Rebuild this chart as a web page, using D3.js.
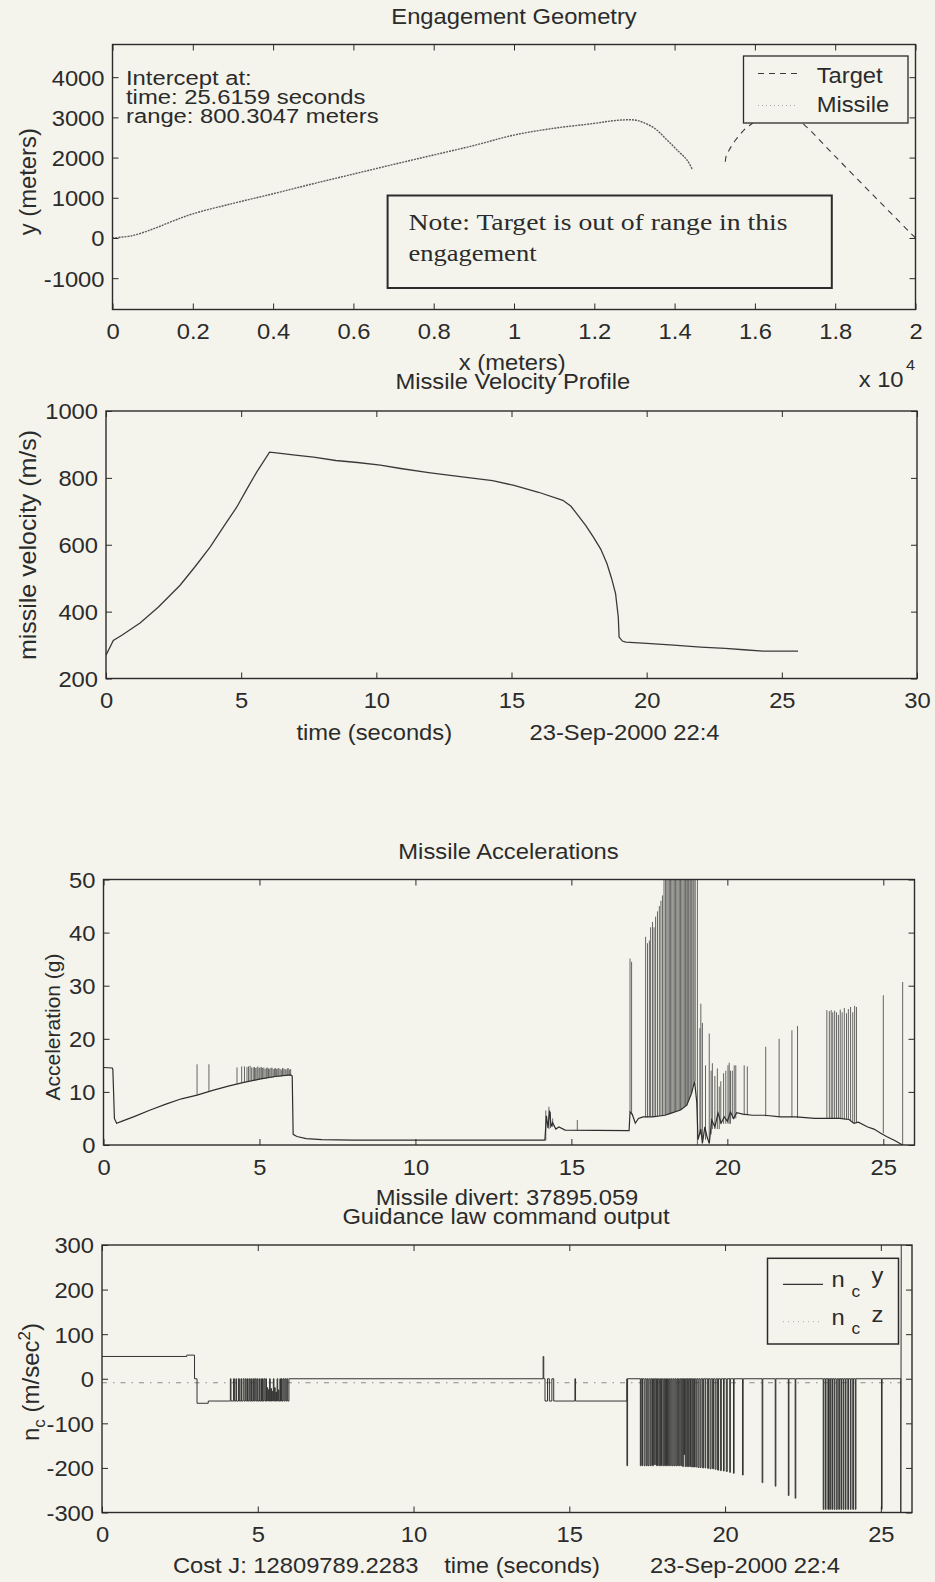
<!DOCTYPE html>
<html><head><meta charset="utf-8">
<script src="https://cdn.jsdelivr.net/npm/d3@7/dist/d3.min.js"></script>
<style>
html,body{margin:0;padding:0;background:#f4f4ec;}
svg{display:block;}
</style></head><body>
<svg id="c" width="935" height="1582"></svg>
<script>
// ---------------- DATA ----------------
// Panel 1: Engagement geometry (meters)
const missileX = [0, 500, 1000, 1500, 2000, 3000, 4000, 5000, 6000, 7000, 8000, 9000, 10000, 11000, 12000, 12500, 13000, 13200, 13500, 13800, 14100, 14300, 14450];
const missileY = [0, 60, 220, 420, 600, 860, 1100, 1350, 1590, 1830, 2065, 2300, 2560, 2730, 2850, 2920, 2935, 2880, 2730, 2450, 2150, 1950, 1690];
const targetX = [20000, 19000, 18000, 17190, 16800, 16500, 16200, 15935, 15770, 15520, 15360, 15280, 15262];
const targetY = [0, 1010, 2030, 2853, 3150, 3230, 3150, 2853, 2729, 2438, 2189, 2022, 1816];
const geoXTicks = [0, 2000, 4000, 6000, 8000, 10000, 12000, 14000, 16000, 18000, 20000];
const geoYTicks = [-1000, 0, 1000, 2000, 3000, 4000];
const interceptLines = ["Intercept at:", "time: 25.6159 seconds", "range: 800.3047 meters"];
const noteLines = ["Note:  Target is out of range in this", "engagement"];
const geoLegend = ["Target", "Missile"];

// Panel 2: Missile velocity (m/s)
const velT = [0, 0.27, 0.6, 1.26, 1.94, 2.74, 3.3, 3.85, 4.4, 4.84, 5.2, 5.58, 6.05, 6.3, 7.0, 7.68, 8.5, 9.3, 10.15, 10.9, 12.0, 13.4, 14.3, 15.06, 16.0, 16.9, 17.2, 17.46, 17.75, 18.03, 18.3, 18.53, 18.7, 18.85, 18.95, 18.98, 19.1, 19.23, 20.0, 21.0, 22.0, 22.9, 23.6, 24.3, 25.6];
const velV = [270, 314, 330, 366, 414, 479, 535, 593, 660, 713, 765, 818, 877, 875, 868, 862, 852, 846, 838, 828, 815, 801, 792, 778, 757, 733, 715, 688, 657, 623, 587, 544, 500, 454, 384, 324, 312, 309, 305, 300, 294, 290, 286, 282, 282];
const velXTicks = [0, 5, 10, 15, 20, 25, 30];
const velYTicks = [200, 400, 600, 800, 1000];

// Panel 3: Missile accelerations (g)
const accBaseT = [0, 0.28, 0.3, 0.35, 0.42, 0.6, 1.0, 1.5, 2.0, 2.5, 3.0, 3.5, 4.0, 4.5, 5.0, 5.5, 6.0, 6.05, 6.08, 6.2, 6.5, 7.0, 8.0, 14.15, 14.2, 14.25, 14.3, 14.35, 14.4, 14.5, 14.6, 14.8, 16.85, 16.88, 16.95, 17.05, 17.15, 17.3, 17.6, 18.0, 18.2, 18.5, 18.7, 18.85, 18.95, 19.02, 19.06, 19.15, 19.2, 19.28, 19.35, 19.42, 19.5, 19.6, 19.7, 19.8, 19.9, 20.0, 20.1, 20.2, 20.3, 20.5, 20.8, 21.2, 21.7, 22.2, 22.8, 23.6, 23.9, 24.06, 24.2, 24.5, 24.7, 24.92, 25.1, 25.35, 25.62];
const accBaseV = [14.6, 14.5, 14.2, 5.0, 4.1, 4.5, 5.4, 6.6, 7.7, 8.7, 9.4, 10.3, 11.1, 11.8, 12.4, 12.9, 13.2, 13.0, 2.0, 1.6, 1.2, 1.0, 0.9, 0.9, 5.5, 3.2, 6.5, 3.5, 4.2, 3.0, 3.4, 2.8, 2.7, 6.2, 5.8, 4.1, 5.0, 5.3, 5.3, 5.6, 6.0, 6.6, 7.5, 9.7, 12, 8, 1, 3, 0.3, 3.4, 1.5, 0.3, 4.7, 3.4, 6.0, 4.1, 5.3, 4.5, 6.2, 5.0, 6.1, 5.8, 5.6, 5.6, 5.3, 5.3, 5.0, 5.0, 4.8, 4.1, 4.3, 3.4, 3.0, 2.2, 1.6, 0.9, 0];
// spikes: [time, from, to]
const accSpikes = [
 [3.0,9.4,15.2],[3.38,10.2,15.2],
 [4.28,11.5,14.6],[4.43,11.7,14.8],[4.52,11.8,14.8],[4.6,11.9,14.7],[4.65,12.0,14.8],[4.7,12.0,14.9],[4.75,12.1,14.6],[4.8,12.1,14.6],[4.84,12.1,14.7],[4.88,12.2,14.5],[4.92,12.2,14.6],[4.95,12.3,14.8],[4.99,12.3,14.5],[5.02,12.4,14.6],[5.06,12.4,14.7],[5.1,12.4,14.5],[5.14,12.5,14.6],[5.18,12.5,14.3],[5.22,12.5,14.5],[5.25,12.6,14.6],[5.29,12.6,14.4],[5.33,12.6,14.4],[5.37,12.7,14.5],[5.4,12.7,14.6],[5.44,12.7,14.3],[5.48,12.8,14.4],[5.52,12.8,14.5],[5.55,12.8,14.3],[5.59,12.9,14.4],[5.62,12.9,14.5],[5.66,12.9,14.3],[5.7,12.9,14.2],[5.74,13.0,14.5],[5.78,13.0,14.4],[5.82,13.0,14.3],[5.85,13.0,14.2],[5.89,13.1,14.4],[5.92,13.1,14.5],[5.96,13.1,14.2],[6.0,13.1,14.3],
 [14.18,0.9,6.5],[14.28,3.0,7.2],[14.33,3.2,6.2],[14.4,3.4,5.0],[15.19,2.8,4.7],
 [16.88,6.2,35.1],[16.93,5.8,34.5],[17.38,5.2,39.2],[17.44,5.2,38],[17.5,5.3,38.5],[17.54,5.3,41],[17.6,5.3,42],[17.65,5.3,41],[17.7,5.4,43],[17.76,5.4,44],[17.82,5.5,45],[17.87,5.5,46],[17.92,5.5,47],
 [17.97,5.6,60],[18.02,5.6,60],[18.06,5.7,60],[18.1,5.8,60],[18.14,5.8,60],[18.18,6.0,60],[18.22,6.0,60],[18.26,6.1,60],[18.3,6.2,60],[18.34,6.3,60],[18.38,6.4,60],[18.42,6.5,60],[18.46,6.5,60],[18.5,6.6,60],[18.54,6.8,60],[18.58,7.0,60],[18.62,7.2,60],[18.66,7.4,60],[18.7,7.5,60],[18.73,8,60],[18.76,8.5,60],[18.8,9,60],[18.83,9.7,60],[18.86,10,60],[18.9,11,60],[18.93,12,60],[18.97,12,60],[19.04,0,60],
 [19.12,2,22],[19.15,2,26.6],[19.2,1,23],[19.3,1,15],[19.42,0.3,21],[19.48,2,14],[19.52,3,15.4],[19.6,3,13],[19.68,3,14.4],[19.74,3,11],[19.79,4,12],[19.88,4,13.5],[19.95,4,14],[20.02,4,15],[20.06,4,15.5],[20.1,4,14],[20.16,5,14],[20.22,5,15],[20.27,5,15],[20.54,5.6,15],[20.64,5.6,14.8],
 [21.23,5.4,18.5],[21.66,5.3,20],[22.07,5.2,21.6],[22.25,5.1,22.4],
 [23.19,5,25.4],[23.27,5,25.2],[23.33,5,25.4],[23.38,5,25],[23.44,4.9,25.3],[23.5,4.9,25],[23.56,4.9,24.5],[23.62,4.9,25.5],[23.68,4.9,25],[23.75,4.8,25.8],[23.82,4.8,24.8],[23.88,4.8,25.6],[23.95,4.6,26],[24.02,4.3,25],[24.08,4.2,26.2],[24.14,4.2,26],
 [25.0,2.2,28.2],[25.62,0,30.7]
];
const accXTicks = [0, 5, 10, 15, 20, 25];
const accYTicks = [0, 10, 20, 30, 40, 50];

// Panel 4: Guidance law command output (m/s^2)
const nyStart = [[0,50],[2.72,50],[2.72,53],[2.97,53],[2.97,0],[3.05,0],[3.05,-55],[3.41,-55],[3.41,-50],[4.1,-50]];
const nyRiseBase = -50;
// pulses up from -50: [start, end, top]
const nyRise = [[4.12,4.14,0],[4.22,4.25,0],[4.3,4.32,0],[4.38,4.41,0],[4.46,4.48,0],[4.53,4.56,0],[4.6,4.63,0],[4.67,4.69,0],[4.73,4.76,0],[4.8,4.82,0],[4.86,4.89,0],[4.92,4.95,0],[4.98,5.0,0],[5.04,5.06,0],[5.1,5.12,0],[5.15,5.17,0],[5.2,5.23,0],[5.26,5.28,0],[5.3,5.32,-20],[5.34,5.36,-25],[5.38,5.4,0],[5.42,5.44,-22],[5.46,5.48,-28],[5.5,5.52,0],[5.54,5.56,-20],[5.58,5.6,-30],[5.62,5.64,0],[5.66,5.68,-25],[5.71,5.73,0],[5.76,5.78,0],[5.81,5.84,0],[5.87,5.9,0],[5.93,5.96,0]];
const nyMid = [[6.0,-50],[6.0,0],[14.16,0],[14.16,50],[14.18,50],[14.18,0],[14.22,0],[14.22,-50],[14.3,-50],[14.3,0],[14.36,0],[14.36,-50],[14.44,-50],[14.44,0],[14.5,0],[14.5,-50],[15.18,-50],[15.18,0],[15.2,0],[15.2,-50],[16.85,-50],[16.85,0]];
// pulses down from 0: [start, end, value]
const nyDrops = [[16.85,16.87,-195],[17.28,17.3,-195],[17.33,17.35,-195],[17.4,17.43,-195],[17.47,17.5,-195],[17.53,17.56,-195],[17.6,17.63,-195],[17.67,17.7,-195],[17.74,17.76,-193],[17.8,17.83,-195],[17.87,17.9,-195],[17.93,17.96,-195],[18.0,18.03,-195],[18.06,18.09,-195],[18.12,18.15,-195],[18.18,18.21,-195],[18.24,18.27,-195],[18.3,18.33,-195],[18.36,18.39,-195],[18.42,18.45,-195],[18.48,18.5,-195],[18.53,18.56,-195],[18.59,18.61,-195],[18.64,18.66,-197],[18.68,18.7,-170],[18.72,18.74,-197],[18.77,18.79,-197],[18.82,18.84,-197],[18.87,18.89,-197],[18.93,18.95,-198],[18.99,19.02,-198],[19.06,19.09,-198],[19.13,19.16,-199],[19.2,19.23,-199],[19.28,19.31,-200],[19.36,19.38,-200],[19.44,19.47,-201],[19.52,19.55,-202],[19.6,19.63,-202],[19.68,19.71,-203],[19.76,19.79,-205],[19.85,19.88,-206],[19.95,19.97,-207],[20.04,20.07,-208],[20.15,20.17,-210],[20.27,20.29,-212],[20.56,20.58,-216],[21.19,21.21,-233],[21.61,21.63,-241],[22.03,22.05,-262],[22.25,22.27,-268],[23.15,23.17,-293],[23.22,23.24,-293],[23.3,23.32,-293],[23.36,23.38,-293],[23.43,23.45,-293],[23.5,23.52,-293],[23.57,23.6,-293],[23.65,23.67,-293],[23.72,23.74,-293],[23.79,23.81,-293],[23.86,23.88,-293],[23.94,23.96,-293],[24.02,24.04,-293],[24.1,24.12,-293],[24.18,24.2,-293],[25.02,25.04,-293]];
const nyEnd = [[25.64,0],[25.64,-300],[25.655,300]];
const nzLine = [[0,-9],[25.64,-9]];
const cmdXTicks = [0, 5, 10, 15, 20, 25];
const cmdYTicks = [-300, -200, -100, 0, 100, 200, 300];

// ---------------- STYLE ----------------
const FONT = "'Liberation Sans', Arial, Helvetica, sans-serif";
const SERIF = "'Liberation Serif', 'Times New Roman', serif";
const FS = 22, SX = 1.08, INK = "#2b2b2b", BG = "#f4f4ec";

const svg = d3.select("#c");
svg.append("rect").attr("width", 935).attr("height", 1582).attr("fill", BG);

function htext(x, y, str, o = {}) {
  return svg.append("text")
    .attr("transform", `translate(${x},${y}) scale(${o.sx || SX},1)`)
    .attr("text-anchor", o.anchor || "start")
    .attr("font-size", o.size || FS)
    .attr("font-family", o.family || FONT)
    .attr("fill", INK).text(str);
}
function vtext(x, y, str, size, len) {
  const t = svg.append("text")
    .attr("transform", `translate(${x},${y}) rotate(-90)`)
    .attr("text-anchor", "middle").attr("font-size", size || 24)
    .attr("font-family", FONT).attr("fill", INK).text(str);
  if (len) t.attr("textLength", len).attr("lengthAdjust", "spacingAndGlyphs");
  return t;
}

function panel(id, L, R, T, B, xDom, yDom) {
  const x = d3.scaleLinear().domain(xDom).range([L, R]);
  const y = d3.scaleLinear().domain(yDom).range([B, T]);
  svg.append("clipPath").attr("id", id).append("rect")
    .attr("x", L).attr("y", T).attr("width", R - L).attr("height", B - T);
  const g = svg.append("g").attr("clip-path", `url(#${id})`);
  return { x, y, g, L, R, T, B };
}
function axes(p, xTicks, yTicks, xFmt, yFmt) {
  const TL = 6;
  const st = s => s.attr("font-family", FONT).attr("font-size", FS).attr("color", INK);
  const gb = svg.append("g").attr("transform", `translate(0,${p.B})`)
    .call(d3.axisBottom(p.x).tickValues(xTicks).tickFormat(xFmt).tickSizeInner(-TL).tickSizeOuter(0));
  st(gb); gb.select(".domain").remove();
  gb.selectAll(".tick text").attr("y", 30).attr("dy", null).attr("transform", `scale(${SX},1)`);
  const gt = svg.append("g").attr("transform", `translate(0,${p.T})`)
    .call(d3.axisTop(p.x).tickValues(xTicks).tickFormat("").tickSizeInner(-TL).tickSizeOuter(0));
  st(gt); gt.select(".domain").remove();
  const gl = svg.append("g").attr("transform", `translate(${p.L},0)`)
    .call(d3.axisLeft(p.y).tickValues(yTicks).tickFormat(yFmt).tickSizeInner(-TL).tickSizeOuter(0));
  st(gl); gl.select(".domain").remove();
  gl.selectAll(".tick text").attr("x", -8 / SX).attr("dy", "0.36em").attr("transform", `scale(${SX},1)`);
  const gr = svg.append("g").attr("transform", `translate(${p.R},0)`)
    .call(d3.axisRight(p.y).tickValues(yTicks).tickFormat("").tickSizeInner(-TL).tickSizeOuter(0));
  st(gr); gr.select(".domain").remove();
  svg.selectAll(".tick line").attr("stroke-width", 1);
  svg.append("rect").attr("x", p.L).attr("y", p.T).attr("width", p.R - p.L).attr("height", p.B - p.T)
    .attr("fill", "none").attr("stroke", INK).attr("stroke-width", 1.4);
}

// ---------------- PANEL 1 ----------------
const p1 = panel("c1", 112.5, 915.5, 44.5, 309.5, [0, 20000], [-1779, 4813]);
const line1 = d3.line().x(d => p1.x(d[0])).y(d => p1.y(d[1])).curve(d3.curveCatmullRom);
p1.g.append("path").attr("d", line1(missileX.map((v, i) => [v, missileY[i]])))
  .attr("fill", "none").attr("stroke", "#5c5c5c").attr("stroke-width", 1.4).attr("stroke-dasharray", "2,1");
p1.g.append("path").attr("d", line1(targetX.map((v, i) => [v, targetY[i]])))
  .attr("fill", "none").attr("stroke", "#3a3a3a").attr("stroke-width", 1.1).attr("stroke-dasharray", "6,5");
// note box
svg.append("rect").attr("x", 387.6).attr("y", 195.5).attr("width", 444.2).attr("height", 92.5)
  .attr("fill", BG).attr("stroke", INK).attr("stroke-width", 2);
svg.append("text").attr("x", 408.5).attr("y", 230).attr("font-family", SERIF).attr("font-size", 23)
  .attr("fill", INK).attr("textLength", 379).attr("lengthAdjust", "spacingAndGlyphs").text(noteLines[0]);
svg.append("text").attr("x", 408.5).attr("y", 261).attr("font-family", SERIF).attr("font-size", 23)
  .attr("fill", INK).attr("textLength", 128).attr("lengthAdjust", "spacingAndGlyphs").text(noteLines[1]);
// legend
svg.append("rect").attr("x", 743.5).attr("y", 56).attr("width", 164.5).attr("height", 67)
  .attr("fill", BG).attr("stroke", INK).attr("stroke-width", 1.3);
svg.append("line").attr("x1", 758).attr("x2", 797).attr("y1", 73.5).attr("y2", 73.5)
  .attr("stroke", "#3a3a3a").attr("stroke-width", 1.1).attr("stroke-dasharray", "6,5");
svg.append("line").attr("x1", 758).attr("x2", 797).attr("y1", 105.5).attr("y2", 105.5)
  .attr("stroke", "#aaa").attr("stroke-width", 1.2).attr("stroke-dasharray", "1,3");
htext(816.7, 82.7, geoLegend[0]);
htext(816.7, 111.7, geoLegend[1]);
// intercept text
interceptLines.forEach((s, i) => htext(126, 84.5 + i * 19.2, s, { size: 20, sx: 1.19 }));
axes(p1, geoXTicks, geoYTicks, d => String(+(d / 1e4).toFixed(1)), d => String(d));
htext(514, 24, "Engagement Geometry", { anchor: "middle" });
vtext(36, 181.7, "y (meters)", 24, 107);
htext(512.2, 369.5, "x (meters)", { anchor: "middle" });
htext(858.7, 386.7, "x 10");
htext(906, 370, "4", { size: 15 });
htext(512.8, 389, "Missile Velocity Profile", { anchor: "middle" });

// ---------------- PANEL 2 ----------------
const p2 = panel("c2", 106, 917, 411, 678.5, [0, 30], [200, 1000]);
p2.g.append("path").attr("d", d3.line().x(d => p2.x(d[0])).y(d => p2.y(d[1]))(velT.map((t, i) => [t, velV[i]])))
  .attr("fill", "none").attr("stroke", "#3a3a3a").attr("stroke-width", 1.3);
axes(p2, velXTicks, velYTicks, d => String(d), d => String(d));
vtext(36, 545, "missile velocity (m/s)", 24, 230);
htext(296.4, 740, "time (seconds)");
htext(529.5, 740, "23-Sep-2000 22:4");

// ---------------- PANEL 3 ----------------
const p3 = panel("c3", 103.5, 914.5, 879.5, 1145, [0, 26], [0, 50]);
p3.g.selectAll("line.sp").data(accSpikes).join("line").attr("class", "sp")
  .attr("x1", d => p3.x(d[0])).attr("x2", d => p3.x(d[0]))
  .attr("y1", d => p3.y(d[1])).attr("y2", d => p3.y(d[2]))
  .attr("stroke", "#555").attr("stroke-width", 0.9);
p3.g.append("path").attr("d", d3.line().x(d => p3.x(d[0])).y(d => p3.y(d[1]))(accBaseT.map((t, i) => [t, accBaseV[i]])))
  .attr("fill", "none").attr("stroke", "#2e2e2e").attr("stroke-width", 1.2);
axes(p3, accXTicks, accYTicks, d => String(d), d => String(d));
htext(508.5, 859.3, "Missile Accelerations", { anchor: "middle" });
vtext(59.5, 1027, "Acceleration (g)", 21);
htext(507, 1205, "Missile divert:  37895.059", { anchor: "middle" });

// ---------------- PANEL 4 ----------------
const p4 = panel("c4", 102, 912, 1245, 1512.5, [0, 26], [-300, 300]);
const nyPts = [].concat(
  nyStart,
  ...nyRise.map(([a, b, v]) => [[a, nyRiseBase], [a, v], [b, v], [b, nyRiseBase]]),
  nyMid,
  ...nyDrops.map(([a, b, v]) => [[a, 0], [a, v], [b, v], [b, 0]]),
  nyEnd
);
const line4 = d3.line().x(d => p4.x(d[0])).y(d => p4.y(d[1]));
p4.g.append("path").attr("d", line4(nzLine)).attr("fill", "none")
  .attr("stroke", "#8a8a8a").attr("stroke-width", 1).attr("stroke-dasharray", "5,6,1.5,6");
p4.g.append("path").attr("d", line4(nyPts)).attr("fill", "none")
  .attr("stroke", "#333").attr("stroke-width", 1);
// legend
svg.append("rect").attr("x", 767.5).attr("y", 1258.3).attr("width", 131).attr("height", 85.7)
  .attr("fill", BG).attr("stroke", INK).attr("stroke-width", 1.5);
svg.append("line").attr("x1", 783).attr("x2", 823).attr("y1", 1284.3).attr("y2", 1284.3)
  .attr("stroke", "#333").attr("stroke-width", 1.2);
svg.append("line").attr("x1", 783).attr("x2", 823).attr("y1", 1321.7).attr("y2", 1321.7)
  .attr("stroke", "#aaa").attr("stroke-width", 1).attr("stroke-dasharray", "1,4");
htext(831.5, 1286.7, "n");
htext(851.5, 1296.7, "c", { size: 16 });
htext(871.5, 1283, "y");
htext(831.5, 1325, "n");
htext(851.5, 1334, "c", { size: 16 });
htext(871.5, 1322, "z");
axes(p4, cmdXTicks, cmdYTicks, d => String(d), d => String(d));
htext(506, 1224, "Guidance law command output", { anchor: "middle" });
const yl4 = svg.append("text").attr("transform", "translate(38.8,1382) rotate(-90)")
  .attr("text-anchor", "middle").attr("font-size", 24).attr("font-family", FONT).attr("fill", INK);
yl4.append("tspan").text("n");
yl4.append("tspan").attr("font-size", 17).attr("dy", 6).text("c");
yl4.append("tspan").attr("dy", -6).text(" (m/sec");
yl4.append("tspan").attr("font-size", 17).attr("dy", -9).text("2");
yl4.append("tspan").attr("dy", 9).text(")");
htext(172.9, 1573.3, "Cost J: 12809789.2283");
htext(444.2, 1573.3, "time (seconds)");
htext(650, 1573.3, "23-Sep-2000 22:4");
</script></body></html>
